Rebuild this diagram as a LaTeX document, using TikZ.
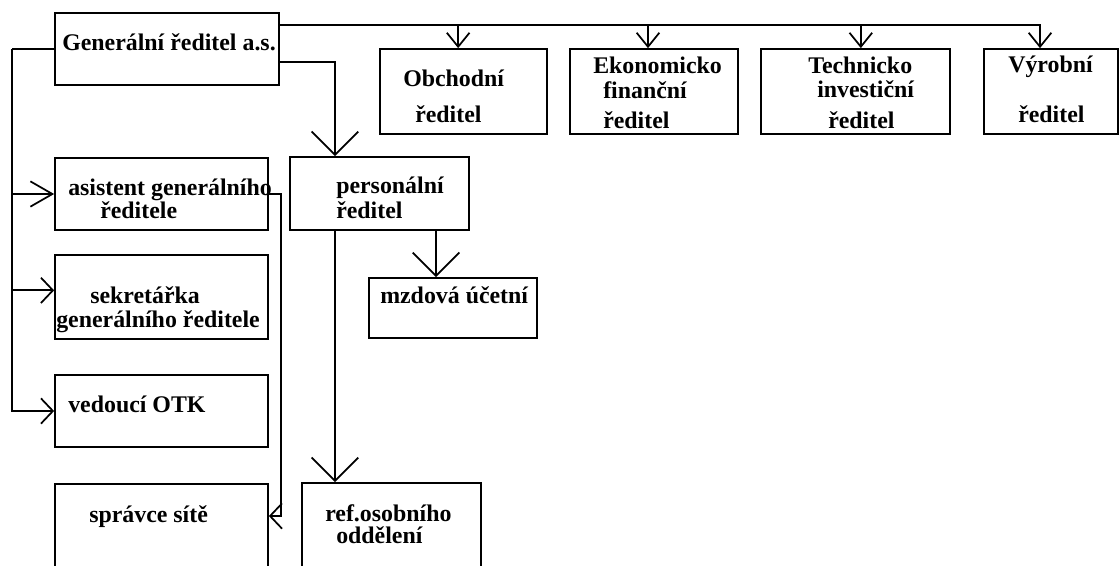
\documentclass[tikz,border=0pt]{standalone}
\usepackage{fontspec}
\setmainfont{Liberation Serif}
\usetikzlibrary{arrows.meta,fit}

\tikzset{
	box/.style={draw, line width=1.3pt, inner sep=0pt},
	txt/.style={font=\fontsize{17.9}{20}\selectfont\bfseries, inner sep=0pt, anchor=base west},
	arrTop/.style={line width=1.3pt, -{Straight Barb[length=10.5pt, width=17pt, line width=1.3pt]}},
	arrBig/.style={line width=1.3pt, -{Straight Barb[length=17.5pt, width=35pt, line width=1.3pt]}},
	arrMid/.style={line width=1.3pt, -{Straight Barb[length=16.5pt, width=19pt, line width=1.3pt]}},
	arrSm/.style={line width=1.3pt, -{Straight Barb[length=9pt, width=19pt, line width=1.3pt]}},
}

\begin{document}
\begin{tikzpicture}[x=0.75pt, y=-0.75pt]
	
	\useasboundingbox (0,0) rectangle (1120,565);
	\clip (0,0) rectangle (1120,565);
	
	% boxes
	\node [box, fit={(55,13) (279,85)}]     (gen)   {};
	\node [box, fit={(380,49) (547,134)}]   (obch)  {};
	\node [box, fit={(570,49) (738,134)}]   (ekon)  {};
	\node [box, fit={(761,49) (950,134)}]   (tech)  {};
	\node [box, fit={(984,49) (1118,134)}]  (vyr)   {};
	\node [box, fit={(55,158) (268,230)}]   (asis)  {};
	\node [box, fit={(55,255) (268,339)}]   (sekr)  {};
	\node [box, fit={(55,375) (268,447)}]   (otk)   {};
	\node [box, fit={(55,484) (268,580)}]   (sprav) {};
	\node [box, fit={(290,157) (469,230)}]  (pers)  {};
	\node [box, fit={(369,278) (537,338)}]  (mzd)   {};
	\node [box, fit={(302,483) (481,580)}]  (ref)   {};
	
	% texts
	\node [txt] (genT)    at (  62, 50) {Generální ředitel a.s.};
	\node [txt] (obchT1)  at ( 403, 86) {Obchodní};
	\node [txt] (obchT2)  at ( 415,122) {ředitel};
	\node [txt] (ekonT1)  at ( 593, 73) {Ekonomicko};
	\node [txt] (ekonT2)  at ( 603, 98) {finanční};
	\node [txt] (ekonT3)  at ( 603,128) {ředitel};
	\node [txt] (techT1)  at ( 808, 73) {Technicko};
	\node [txt] (techT2)  at ( 817, 97) {investiční};
	\node [txt] (techT3)  at ( 828,128) {ředitel};
	\node [txt] (vyrT1)   at (1008, 72) {Výrobní};
	\node [txt] (vyrT2)   at (1018,122) {ředitel};
	\node [txt] (asisT1)  at (  68,195) {asistent generálního};
	\node [txt] (asisT2)  at ( 100,218) {ředitele};
	\node [txt] (sekrT1)  at (  90,303) {sekretářka};
	\node [txt] (sekrT2)  at (  56,327) {generálního ředitele};
	\node [txt] (otkT)    at (  68,412) {vedoucí OTK};
	\node [txt] (spravT)  at (  89,522) {správce sítě};
	\node [txt] (persT1)  at ( 336,193) {personální};
	\node [txt] (persT2)  at ( 336,218) {ředitel};
	\node [txt] (mzdT)    at ( 380,303) {mzdová účetní};
	\node [txt] (refT1)   at ( 325,521) {ref.osobního};
	\node [txt] (refT2)   at ( 336,543) {oddělení};
	
	% entry points
	\coordinate (obchIn) at ([xshift=-4pt]obch.north);
	\coordinate (ekonIn) at ([xshift=-4.5pt]ekon.north);
	\coordinate (techIn) at ([xshift=4pt]tech.north);
	\coordinate (vyrIn)  at ([xshift=-8.25pt]vyr.north);
	\coordinate (persIn) at ([xshift=-33.4pt]pers.north);
	\coordinate (mzdIn)  at ([xshift=-12.75pt]mzd.north);
	\coordinate (refIn)  at ([xshift=-42.4pt]ref.north);
	\coordinate (sprIn)  at ([yshift=12pt]sprav.east);
	\coordinate (lft)    at (12,49);
	
	% connectors
	\draw [arrTop] (gen.east |- 0,25) -| (vyrIn);
	\draw [arrTop] (gen.east |- 0,25) -| (techIn);
	\draw [arrTop] (gen.east |- 0,25) -| (ekonIn);
	\draw [arrTop] (gen.east |- 0,25) -| (obchIn);
	\draw [arrBig] (gen.east |- 0,62) -| (persIn);
	\draw [arrBig] (pers.south -| mzdIn) -- (mzdIn);
	\draw [arrBig] (pers.south -| refIn) -- (refIn);
	
	\draw [line width=1.3pt] (gen.west) -- (lft);
	\draw [arrMid] (lft) |- (asis.west);
	\draw [arrSm]  (lft) |- ([yshift=5pt]sekr.west);
	\draw [arrSm]  (lft) |- (otk.west);
	\draw [arrSm]  (asis.east) -| ([xshift=9pt]sprIn) -- (sprIn);
	
\end{tikzpicture}
\end{document}
